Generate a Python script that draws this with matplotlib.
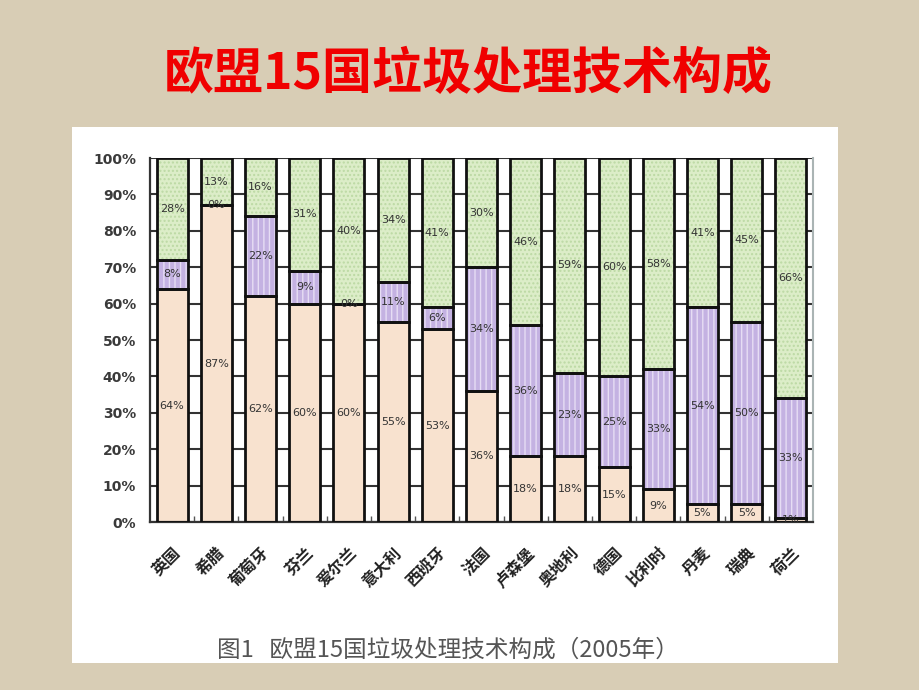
import numpy as np
import matplotlib
matplotlib.use('Agg')
import matplotlib.pyplot as plt
from matplotlib.patches import Rectangle


plt.rcParams['font.family'] = ['Noto Sans CJK SC', 'DejaVu Sans']
plt.rcParams['hatch.linewidth'] = 1.0

# ----------------------------------------------------------------

countries = ['英国', '希腊', '葡萄牙', '芬兰', '爱尔兰', '意大利', '西班牙', '法国',
             '卢森堡', '奥地利', '德国', '比利时', '丹麦', '瑞典', '荷兰']
landfill = [64, 87, 62, 60, 60, 55, 53, 36, 18, 18, 15, 9, 5, 5, 1]
incineration = [8, 0, 22, 9, 0, 11, 6, 34, 36, 23, 25, 33, 54, 50, 33]
recycling = [28, 13, 16, 31, 40, 34, 41, 30, 46, 59, 60, 58, 41, 45, 66]
y_ticks = [0, 10, 20, 30, 40, 50, 60, 70, 80, 90, 100]

title = '欧盟15国垃圾处理技术构成'
caption = '图1   欧盟15国垃圾处理技术构成（2005年）'

# ----------------------------------------------------------------

W, H = 920, 690
bg = '#d8cdb5'

fig = plt.figure(figsize=(W / 100, H / 100), dpi=100)
fig.patch.set_facecolor(bg)


def px_box(x0, y0, x1, y1):
    # pixel box (top-left origin) -> figure fraction rect
    return [x0 / W, 1 - y1 / H, (x1 - x0) / W, (y1 - y0) / H]


# white panel
fig.patches.append(Rectangle((72 / W, 1 - 663 / H), (838 - 72) / W, (663 - 127) / H,
                             transform=fig.transFigure, facecolor='white',
                             edgecolor='none', zorder=-5))

fig.text(468 / W, 1 - 75 / H, title, color='#f00000', fontsize=36,
         fontweight='bold', ha='center', va='center')
fig.text(448 / W, 1 - 650 / H, caption, color='#555555', fontsize=17,
         fontweight='light', ha='center', va='center')

ax = fig.add_axes(px_box(150, 158, 813, 522))
ax.set_zorder(2)
ax.set_facecolor('white')

x = np.arange(len(countries))
w = 0.7
lf = np.array(landfill)
inc = np.array(incineration)
rec = np.array(recycling)

layers = [
    (lf, np.zeros(len(lf)), '#f8e2cf', None, None),
    (inc, lf, '#c4b2e2', '|||', '#e6ddf4'),
    (rec, lf + inc, '#dcedc8', '....', '#bcd9a4'),
]
for vals, bottom, fc, hatch, hc in layers:
    if hatch:
        ax.bar(x, vals, w, bottom=bottom, color=fc, hatch=hatch,
               edgecolor=hc, linewidth=0, zorder=2)
    else:
        ax.bar(x, vals, w, bottom=bottom, color=fc, linewidth=0, zorder=2)
    ax.bar(x, vals, w, bottom=bottom, fill=False, edgecolor='#111111',
           linewidth=2, zorder=3)
    for xi, v, b in zip(x, vals, bottom):
        ax.text(xi, b + v / 2, f'{v}%', ha='center', va='center',
                fontsize=8, color='#333333', family='DejaVu Sans', zorder=4)

ax.set_xlim(-0.5, len(countries) - 0.5)
ax.set_ylim(0, 100)
ax.set_yticks(y_ticks)
ax.set_yticklabels([f'{t}%' for t in y_ticks], fontsize=10, fontweight='bold',
                   color='#3a3a3a', family='DejaVu Sans')
ax.yaxis.grid(True, color='#333333', linewidth=1.5, zorder=1)
ax.set_axisbelow(True)
ax.tick_params(axis='y', length=0, pad=10)

ax.set_xticks(x)
ax.set_xticklabels(countries, rotation=45, ha='right', va='top',
                   rotation_mode='anchor', fontsize=11.5, fontweight='bold',
                   color='#222222')
ax.tick_params(axis='x', length=0, pad=16)
ax.set_xticks(x[:-1] + 0.5, minor=True)
ax.tick_params(axis='x', which='minor', direction='in', length=4,
               color='#555555', width=1)

for s in ['left', 'bottom']:
    ax.spines[s].set_color('#333333')
    ax.spines[s].set_linewidth(1.6)
ax.spines['top'].set_visible(False)
ax.spines['right'].set_color('#aab4b4')
ax.spines['right'].set_linewidth(1.5)

plt.savefig('out.png', dpi=100, facecolor=bg)
